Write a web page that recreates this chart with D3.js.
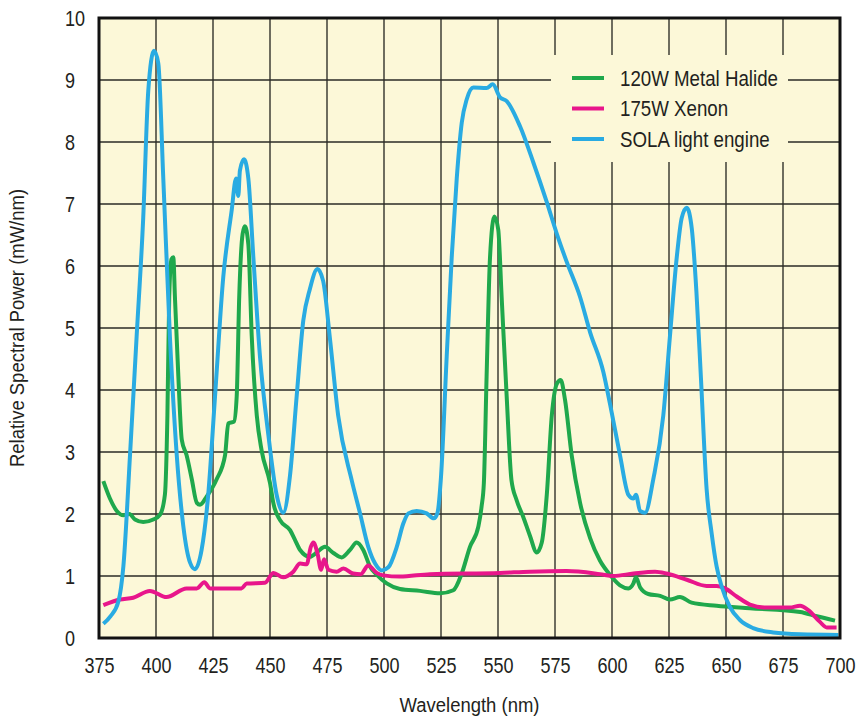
<!DOCTYPE html>
<html>
<head>
<meta charset="utf-8">
<script src="https://cdn.jsdelivr.net/npm/d3@7"></script>
<style>
  body { margin: 0; background: #fff; }
  svg text { font-family: "Liberation Sans", Arial, sans-serif; fill: #231f20; }
</style>
</head>
<body>
<svg id="chart" width="860" height="717"></svg>
<script>
// tick values
const xTicks = [375, 400, 425, 450, 475, 500, 525, 550, 575, 600, 625, 650, 675, 700];
const yTicks = [0, 1, 2, 3, 4, 5, 6, 7, 8, 9, 10];

const seriesNames = ["120W Metal Halide", "175W Xenon", "SOLA light engine"];
const seriesColors = ["#1fa84c", "#e8168b", "#29abe2"];

// 120W Metal Halide
const halideNm = [376.9, 379.8, 382.8, 385.7, 388.3, 390.8, 394.4, 398.8, 401.8, 403.9, 405, 405.8, 406.8, 407.6, 408.3, 409.8, 411.3, 413.4, 415.7, 417.9, 419.3, 422.2, 426.6, 430.3, 431.7, 434.2, 435.4, 436.5, 438, 439, 440.5, 442, 444.2, 446.4, 450, 451.5, 454.4, 458.8, 461, 463.2, 467.5, 470.5, 474.1, 477.8, 481.4, 485.1, 488, 490.9, 493.9, 496.8, 501.2, 507, 515.8, 524.6, 530.4, 534.1, 537.7, 541.4, 542.8, 543.8, 545, 546.5, 548.4, 550.1, 551.6, 553.8, 555.9, 558.1, 561, 564, 567, 569.2, 571.4, 573.6, 575.8, 577.5, 579.4, 582.3, 586, 590.4, 594.7, 599.1, 603.5, 607.2, 609.4, 610.5, 612.3, 615.9, 621.1, 625.4, 629.8, 634.9, 645.9, 660.5, 682.5, 689.8, 697.8];
const halideVal = [2.53, 2.25, 2.05, 1.98, 2.0, 1.91, 1.87, 1.91, 1.99, 2.31, 3.59, 5.5, 6.11, 6.14, 5.5, 4.22, 3.2, 2.95, 2.56, 2.18, 2.15, 2.28, 2.56, 2.95, 3.46, 3.49, 3.9, 5.5, 6.52, 6.64, 6.35, 4.86, 3.59, 3.01, 2.5, 2.17, 1.9, 1.74, 1.58, 1.42, 1.31, 1.38, 1.47, 1.37, 1.3, 1.42, 1.54, 1.42, 1.15, 1.02, 0.88, 0.79, 0.76, 0.72, 0.77, 1.04, 1.47, 1.8, 2.12, 2.5, 4.22, 6.14, 6.8, 6.59, 5.5, 3.9, 2.55, 2.23, 1.96, 1.65, 1.38, 1.54, 2.31, 3.59, 4.1, 4.16, 3.84, 2.95, 2.18, 1.61, 1.25, 1.02, 0.85, 0.8, 0.88, 0.98, 0.82, 0.71, 0.68, 0.62, 0.66, 0.57, 0.52, 0.48, 0.42, 0.35, 0.28];

// 175W Xenon
const xenonNm = [376.9, 384.2, 390, 397.3, 404.6, 413.4, 417.9, 421.2, 423.7, 435.4, 437.5, 439.8, 447.8, 451.5, 455.8, 460.2, 463.2, 466.1, 467.9, 469, 470.8, 472.4, 473.7, 475.6, 479.2, 482.2, 486.5, 489.8, 493.1, 496.8, 499.7, 507, 520.2, 550.9, 564, 580.1, 594.7, 600.6, 609.4, 618.9, 624, 632.8, 641.5, 645.9, 649.6, 654.7, 660.5, 667.8, 678, 682.5, 686.1, 691.2, 694.2, 698.5];
const xenonVal = [0.53, 0.62, 0.65, 0.76, 0.66, 0.8, 0.8, 0.9, 0.8, 0.8, 0.8, 0.88, 0.89, 1.05, 0.98, 1.07, 1.2, 1.19, 1.47, 1.54, 1.37, 1.1, 1.27, 1.1, 1.07, 1.12, 1.04, 1.03, 1.17, 1.05, 1.01, 0.99, 1.03, 1.05, 1.07, 1.08, 1.03, 1.0, 1.04, 1.07, 1.04, 0.94, 0.84, 0.84, 0.8, 0.67, 0.54, 0.49, 0.49, 0.52, 0.45, 0.26, 0.17, 0.17];

// SOLA light engine
const solaNm = [376.9, 380, 383.5, 385.7, 388.6, 391.5, 394.4, 396.6, 399.1, 401, 403.2, 406.1, 409.1, 412, 414.9, 417.1, 420, 422.9, 425.9, 429.5, 433.2, 435.1, 436.1, 436.8, 438.6, 440.5, 442.7, 445.6, 449.3, 452.9, 455.8, 458.8, 461.7, 464.6, 467.5, 470.8, 473.3, 476.2, 479.9, 485.8, 489.5, 493.1, 496.1, 499, 501.9, 505.6, 508.5, 510.7, 514.3, 518.7, 521.9, 523.4, 525, 527.5, 529.7, 531.9, 534.1, 536.3, 539.2, 545, 547.7, 550.9, 553.8, 559.7, 565.5, 571.4, 575.8, 580.1, 586, 590.4, 596.2, 599.1, 603.5, 607.2, 609.4, 610.5, 612.3, 614.5, 618.1, 622.5, 625.4, 628.4, 630.6, 632.8, 635, 637, 639, 641.5, 643.7, 645.9, 648.1, 651.7, 656.1, 661.9, 670.7, 682.5, 699.3];
const solaVal = [0.23, 0.35, 0.59, 1.16, 2.95, 4.86, 6.78, 8.82, 9.47, 9.27, 7.41, 4.86, 2.95, 1.8, 1.22, 1.11, 1.42, 2.31, 3.9, 5.82, 6.9, 7.41, 7.13, 7.54, 7.72, 7.41, 6.14, 4.54, 3.27, 2.31, 2.02, 2.63, 3.9, 5.12, 5.63, 5.95, 5.76, 4.86, 3.59, 2.55, 2.01, 1.47, 1.2, 1.09, 1.14, 1.47, 1.85, 2.01, 2.05, 2.01, 1.93, 2.01, 2.6, 4.54, 6.14, 7.41, 8.31, 8.69, 8.88, 8.87, 8.93, 8.72, 8.66, 8.25, 7.67, 7.03, 6.52, 6.07, 5.5, 4.93, 4.29, 3.78, 2.95, 2.31, 2.25, 2.31, 2.05, 2.02, 2.56, 3.59, 4.86, 6.14, 6.78, 6.94, 6.6, 5.6, 4.2, 2.4, 1.69, 1.15, 0.83, 0.5, 0.29, 0.16, 0.09, 0.06, 0.05];

const svg = d3.select("#chart");
const margin = { top: 18, right: 20, bottom: 79, left: 99 };
const width = 860 - margin.left - margin.right;
const height = 717 - margin.top - margin.bottom;

// no condensed face installed, so squeeze the regular one
const squeeze = 0.82;

const g = svg.append("g").attr("transform", `translate(${margin.left},${margin.top})`);

const x = d3.scaleLinear().domain([375, 700]).range([0, width]);
const y = d3.scaleLinear().domain([0, 10]).range([height, 0]);

// plot background
g.append("rect")
  .attr("width", width)
  .attr("height", height)
  .attr("fill", "#fcf8d8");

// grid
g.append("g")
  .selectAll("line")
  .data(xTicks.slice(1, -1))
  .enter()
  .append("line")
  .attr("x1", (d) => x(d))
  .attr("x2", (d) => x(d))
  .attr("y1", 0)
  .attr("y2", height)
  .attr("stroke", "#4a4a40")
  .attr("stroke-width", 1.6);

g.append("g")
  .selectAll("line")
  .data(yTicks.slice(1, -1))
  .enter()
  .append("line")
  .attr("x1", 0)
  .attr("x2", width)
  .attr("y1", (d) => y(d))
  .attr("y2", (d) => y(d))
  .attr("stroke", "#2b2b26")
  .attr("stroke-width", 1.6);

// legend box sits over the grid
g.append("rect")
  .attr("x", 452)
  .attr("y", 37)
  .attr("width", 237)
  .attr("height", 107)
  .attr("fill", "#fcf8d8");

// curves
const line = d3
  .line()
  .x((d) => x(d[0]))
  .y((d) => y(d[1]))
  .curve(d3.curveMonotoneX);

const series = [
  d3.zip(halideNm, halideVal),
  d3.zip(xenonNm, xenonVal),
  d3.zip(solaNm, solaVal),
];

series.forEach((pts, i) => {
  g.append("path")
    .datum(pts)
    .attr("fill", "none")
    .attr("stroke", seriesColors[i])
    .attr("stroke-width", 4)
    .attr("stroke-linejoin", "round")
    .attr("d", line);
});

// frame
g.append("rect")
  .attr("width", width)
  .attr("height", height)
  .attr("fill", "none")
  .attr("stroke", "#111")
  .attr("stroke-width", 3);

// x tick labels
const xAxis = g
  .append("g")
  .attr("transform", `translate(0,${height})`)
  .call(d3.axisBottom(x).tickValues(xTicks).tickSize(0).tickPadding(19));
xAxis.select(".domain").remove();
xAxis.selectAll("text")
  .attr("font-size", 22)
  .attr("fill", "#231f20")
  .attr("transform", `scale(${squeeze},1)`);

// y tick labels are left aligned in the original
g.append("g")
  .selectAll("text")
  .data(yTicks)
  .enter()
  .append("text")
  .attr("transform", (d) => `translate(-34,${y(d)}) scale(${squeeze},1)`)
  .attr("dy", "0.36em")
  .attr("font-size", 22)
  .text((d) => d);

// legend
const legend = g.append("g").attr("transform", "translate(473,60)");
seriesNames.forEach((name, i) => {
  legend
    .append("line")
    .attr("x1", 0)
    .attr("x2", 32)
    .attr("y1", i * 30.5)
    .attr("y2", i * 30.5)
    .attr("stroke", seriesColors[i])
    .attr("stroke-width", 4);
  legend
    .append("text")
    .attr("transform", `translate(48,${i * 30.5}) scale(0.87,1)`)
    .attr("dy", "0.36em")
    .attr("font-size", 21.5)
    .text(name);
});

// axis titles
svg.append("text")
  .attr("transform", `translate(${margin.left + width / 2},712) scale(0.88,1)`)
  .attr("text-anchor", "middle")
  .attr("font-size", 21)
  .text("Wavelength (nm)");

svg.append("text")
  .attr("transform", `translate(24,${margin.top + height / 2}) rotate(-90) scale(0.88,1)`)
  .attr("text-anchor", "middle")
  .attr("font-size", 21)
  .text("Relative Spectral Power (mW/nm)");
</script>
</body>
</html>
